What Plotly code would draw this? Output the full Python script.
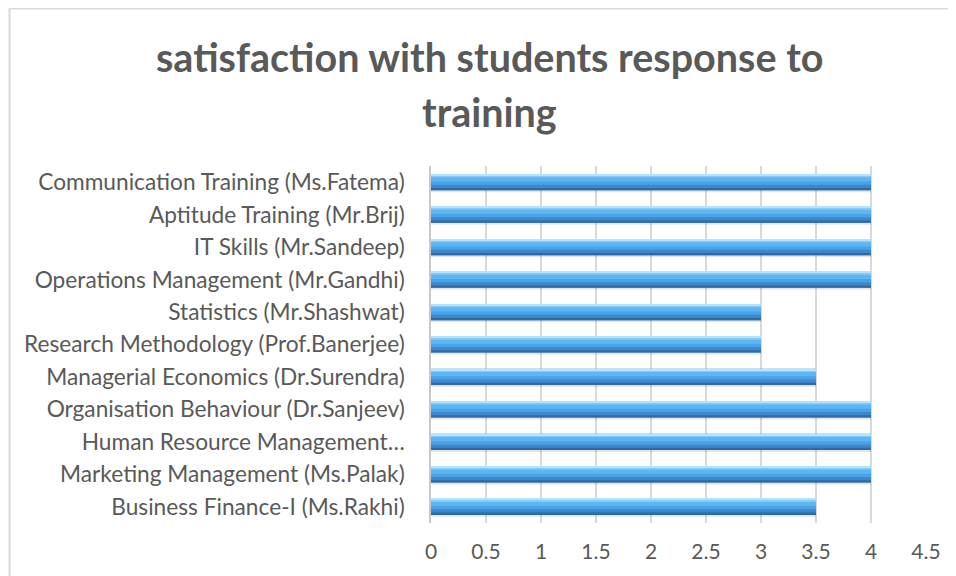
import plotly.graph_objects as go

# Data (bottom to top, as drawn on the category axis)
categories = [
    "Business Finance-I (Ms.Rakhi)",
    "Marketing Management (Ms.Palak)",
    "Human Resource Management…",
    "Organisation Behaviour (Dr.Sanjeev)",
    "Managerial Economics (Dr.Surendra)",
    "Research Methodology (Prof.Banerjee)",
    "Statistics (Mr.Shashwat)",
    "Operations Management (Mr.Gandhi)",
    "IT Skills (Mr.Sandeep)",
    "Aptitude Training (Mr.Brij)",
    "Communication Training (Ms.Fatema)",
]
values = [3.5, 4, 4, 4, 3.5, 3, 3, 4, 4, 4, 4]
x_ticks = [0, 0.5, 1, 1.5, 2, 2.5, 3, 3.5, 4, 4.5]
title_lines = ["satisfaction with students response to", "training"]

OFF = 8  # page body margin
W, H = 948, 568
# plot area in page pixels
PL, PR, PT, PB = 431, 926, 166, 523
L, R, T, B = PL - OFF, PR - OFF, PT - OFF, PB - OFF
TXT = "#595959"
GRID = "#d9d9d9"

fig = go.Figure()

layers = [
    # (width, offset, color)
    (0.54, -0.31, "rgba(0,0,0,0.10)"),   # soft shadow
    (0.50, -0.25, "#3d88cc"),            # base
    (0.07, -0.25, "#2e6aa6"),            # dark lower edge
    (0.30, -0.08, "#4aa3e8"),            # body
    (0.20, 0.02, "#5db6f2"),             # upper body
    (0.07, 0.15, "#86ccf8"),             # top highlight
    (0.03, 0.21, "#b5e3fc"),             # top rim
]
for w, off, col in layers:
    fig.add_trace(go.Bar(
        y=categories, x=values, orientation="h",
        width=w, offset=off,
        marker=dict(color=col, line=dict(width=0)),
        hoverinfo="skip", showlegend=False,
    ))

fig.update_layout(
    width=W, height=H,
    barmode="overlay",
    paper_bgcolor="white", plot_bgcolor="white",
    margin=dict(l=L, r=W - R, t=T, b=H - B, autoexpand=False),
    font=dict(family="Lato, 'Open Sans', sans-serif", color=TXT),
    showlegend=False,
)

fig.update_xaxes(
    range=[0, 4.5], tickvals=x_ticks, ticktext=[f"{v:g}" for v in x_ticks],
    showgrid=True, gridcolor=GRID, gridwidth=1.5,
    zeroline=False, showline=False,
    tickfont=dict(size=21, color=TXT),
    ticks="", ticklabelstandoff=14,
    fixedrange=True,
)
fig.update_yaxes(
    type="category", categoryorder="array", categoryarray=categories,
    range=[-0.5, len(categories) - 0.5],
    showgrid=False, zeroline=False,
    showline=True, linecolor="#c8c8c8", linewidth=1.5,
    tickfont=dict(size=22.7, color=TXT),
    ticks="", ticklabelstandoff=20,
    fixedrange=True,
)

def py(pix):
    return (B - (pix - OFF)) / (B - T)

def px(pix):
    return ((pix - OFF) - L) / (R - L)

fig.add_annotation(text=f"<b>{title_lines[0]}</b>", xref="paper", yref="paper",
                   x=px(489), y=py(56), xanchor="center", yanchor="middle",
                   showarrow=False, font=dict(size=39.5, color=TXT, family="Lato"))
fig.add_annotation(text=f"<b>{title_lines[1]}</b>", xref="paper", yref="paper",
                   x=px(489), y=py(111), xanchor="center", yanchor="middle",
                   showarrow=False, font=dict(size=39.5, color=TXT, family="Lato"))

# chart outer border (top and left visible)
fig.add_shape(type="line", xref="paper", yref="paper",
              x0=px(9.5), x1=px(970), y0=py(8.5), y1=py(8.5),
              line=dict(color=GRID, width=2))
fig.add_shape(type="line", xref="paper", yref="paper",
              x0=px(9.5), x1=px(9.5), y0=py(8.5), y1=py(600),
              line=dict(color=GRID, width=2))

fig.write_html("out.html", config={"displayModeBar": False})
